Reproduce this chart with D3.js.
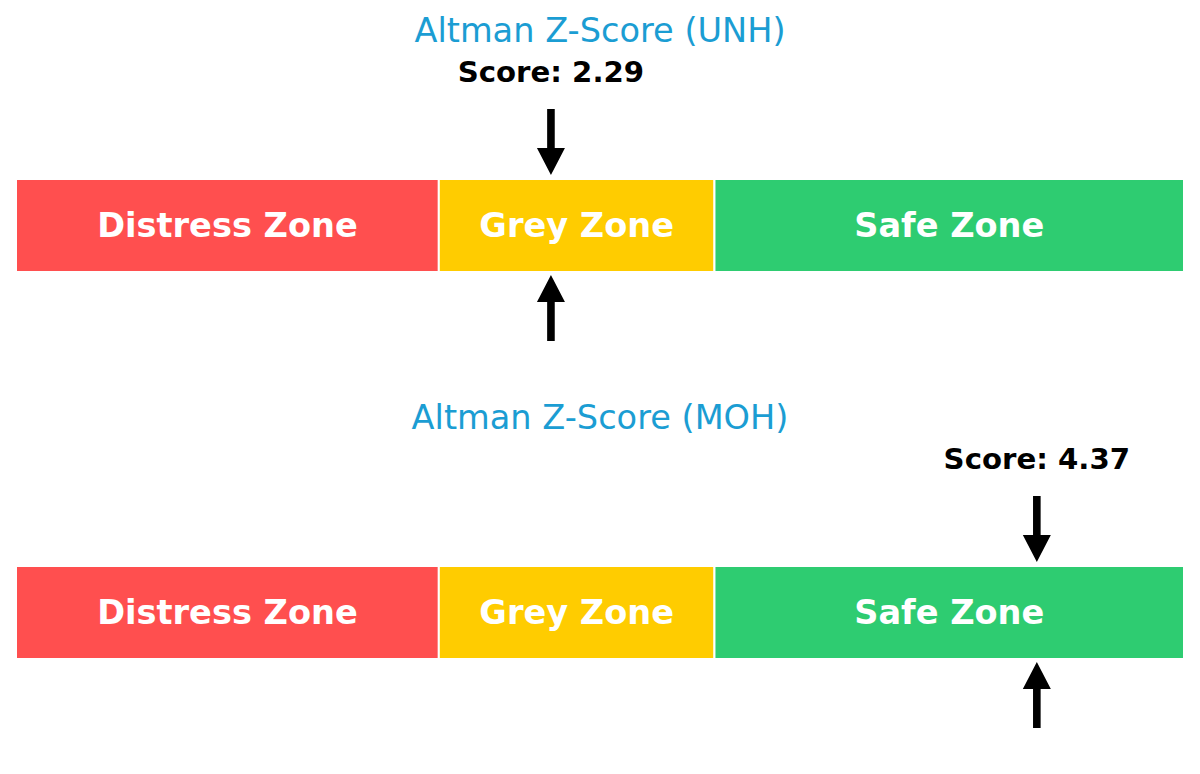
<!DOCTYPE html>
<html>
<head>
<meta charset="utf-8">
<script src="https://cdn.jsdelivr.net/npm/d3@7"></script>
<style>
  html, body { margin: 0; padding: 0; background: #fff; }
  svg { display: block; font-family: "DejaVu Sans", sans-serif; }
</style>
</head>
<body>
<div id="chart"></div>
<script>
// данные
const companies = ["UNH", "MOH"];
const scores = [2.29, 4.37];
const zoneNames = ["Distress Zone", "Grey Zone", "Safe Zone"];
const zoneStarts = [0, 1.81, 2.99];
const zoneEnds = [1.81, 2.99, 5];
const zoneColors = ["#ff4f4f", "#ffcc00", "#2ecc71"];

const width = 1200, height = 774;
const panelStep = 387;   // расстояние между двумя шкалами
const barTop = 179, barHeight = 93;

const svg = d3.select("#chart").append("svg")
  .attr("width", width)
  .attr("height", height);

const x = d3.scaleLinear().domain([0, 5]).range([16, 1184]);

// стрелка: tip — острие, dir = 1 вниз, -1 вверх
function arrowPath(cx, tip, dir) {
  const len = 66, headLen = 27, headW = 14, shaftW = 3.8;
  const base = tip - dir * len;
  const neck = tip - dir * headLen;
  return `M${cx - shaftW},${base} L${cx + shaftW},${base} L${cx + shaftW},${neck}
    L${cx + headW},${neck} L${cx},${tip} L${cx - headW},${neck} L${cx - shaftW},${neck} Z`;
}

companies.forEach((name, i) => {
  const g = svg.append("g").attr("transform", `translate(0,${i * panelStep})`);

  // заголовок
  g.append("text")
    .attr("x", width / 2)
    .attr("y", 42)
    .attr("text-anchor", "middle")
    .attr("font-size", 33.6)
    .attr("fill", "#1b9dd3")
    .text(`Altman Z-Score (${name})`);

  // зоны
  zoneNames.forEach((z, k) => {
    g.append("rect")
      .attr("x", x(zoneStarts[k]))
      .attr("y", barTop)
      .attr("width", x(zoneEnds[k]) - x(zoneStarts[k]))
      .attr("height", barHeight)
      .attr("fill", zoneColors[k])
      .attr("stroke", "#fff")
      .attr("stroke-width", 2);

    g.append("text")
      .attr("x", (x(zoneStarts[k]) + x(zoneEnds[k])) / 2)
      .attr("y", barTop + barHeight / 2 + 11)
      .attr("text-anchor", "middle")
      .attr("font-size", 33.6)
      .attr("font-weight", "bold")
      .attr("fill", "#fff")
      .text(z);
  });

  const sx = x(scores[i]);

  // подпись значения
  g.append("text")
    .attr("x", sx)
    .attr("y", 82)
    .attr("text-anchor", "middle")
    .attr("font-size", 29.2)
    .attr("font-weight", "bold")
    .attr("fill", "#000")
    .text(`Score: ${scores[i].toFixed(2)}`);

  // стрелки сверху и снизу
  g.append("path").attr("d", arrowPath(sx, barTop - 4, 1)).attr("fill", "#000");
  g.append("path").attr("d", arrowPath(sx, barTop + barHeight + 3, -1)).attr("fill", "#000");
});
</script>
</body>
</html>
